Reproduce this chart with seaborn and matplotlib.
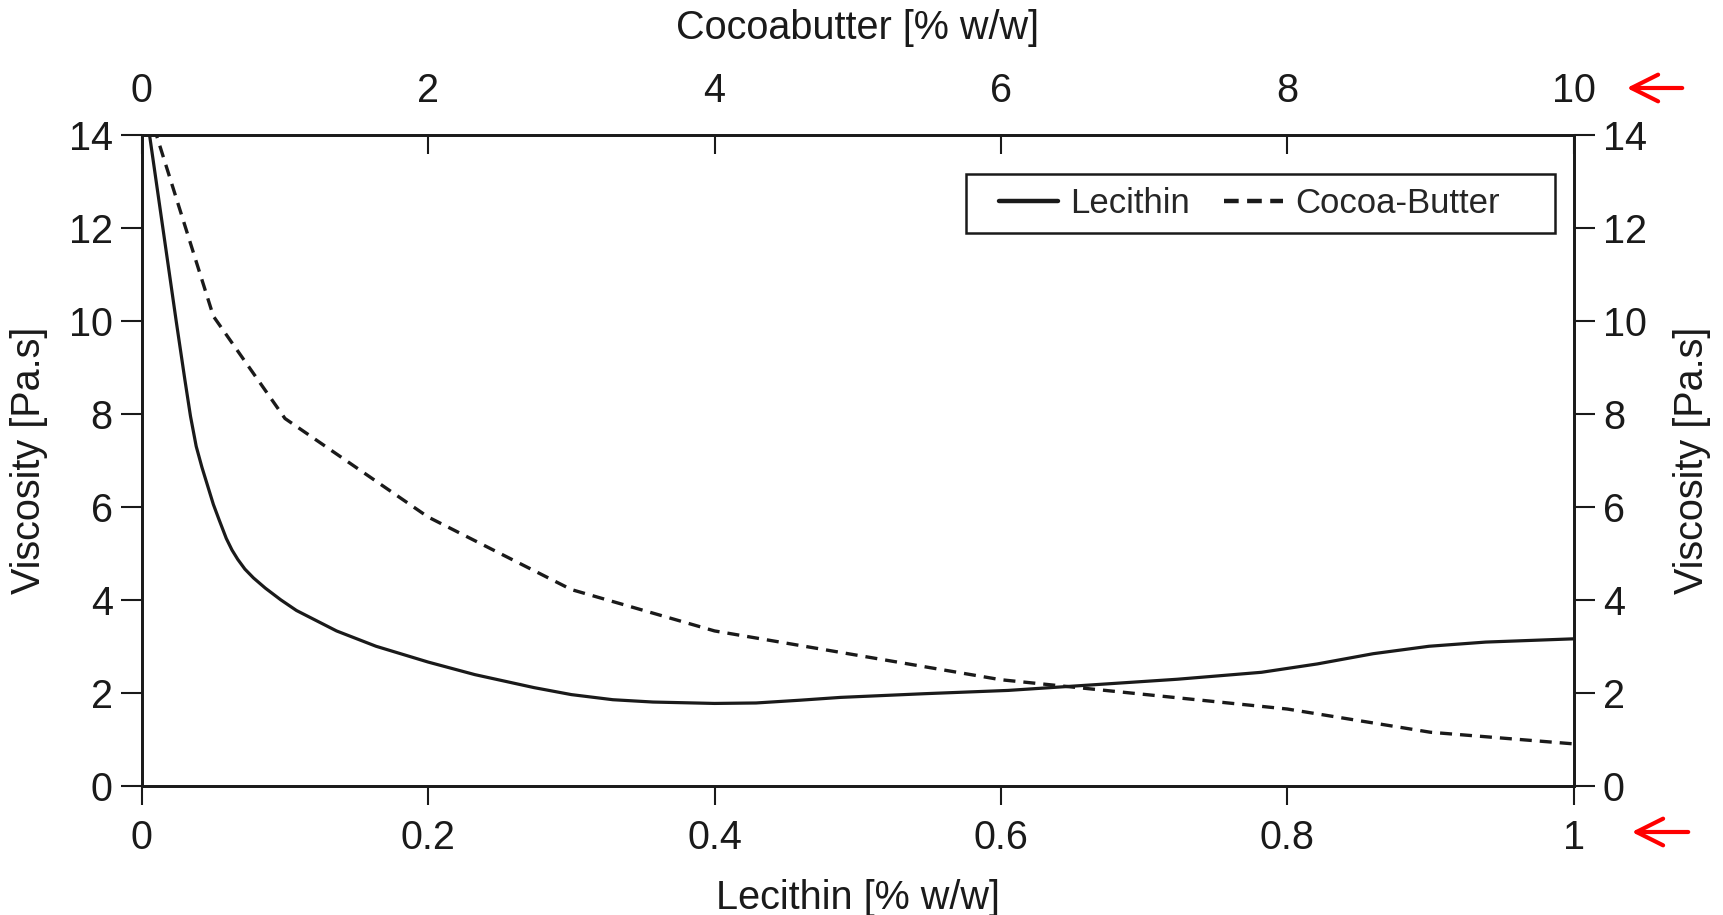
import matplotlib
matplotlib.use("Agg")
import matplotlib.pyplot as plt
from matplotlib.patches import Rectangle
import seaborn as sns
import pandas as pd

# Data
lecithin_x = [0.0, 0.0054, 0.0147, 0.024, 0.030, 0.034, 0.038, 0.042, 0.046,
              0.050, 0.054, 0.059, 0.063, 0.067, 0.072, 0.078, 0.0863, 0.097,
              0.108, 0.136, 0.1636, 0.200, 0.2326, 0.274, 0.300, 0.329, 0.357,
              0.400, 0.429, 0.460, 0.488, 0.547, 0.605, 0.664, 0.723, 0.782,
              0.821, 0.860, 0.899, 0.9386, 1.000]
lecithin_visc = [15.1, 14.0, 12.0, 10.0, 8.75, 7.95, 7.3, 6.85, 6.45,
                 6.05, 5.72, 5.32, 5.07, 4.87, 4.66, 4.47, 4.25, 4.0,
                 3.77, 3.33, 3.0, 2.66, 2.39, 2.11, 1.96, 1.85, 1.80,
                 1.77, 1.78, 1.84, 1.90, 1.98, 2.05, 2.17, 2.29, 2.44,
                 2.62, 2.84, 3.0, 3.09, 3.16]
cocoa_x = [0, 0.5, 1, 2, 3, 4, 6, 8, 9, 10]
cocoa_visc = [15.0, 10.1, 7.9, 5.78, 4.22, 3.33, 2.28, 1.65, 1.15, 0.9]

bottom_ticks = [0, 0.2, 0.4, 0.6, 0.8, 1]
bottom_labels = ["0", "0.2", "0.4", "0.6", "0.8", "1"]
top_ticks = [0, 2, 4, 6, 8, 10]
y_ticks = [0, 2, 4, 6, 8, 10, 12, 14]

sns.set_style("white")
plt.rcParams["font.family"] = ["Liberation Sans", "DejaVu Sans"]
FS = 28.5
LFS = 25
INK = "#1a1a1a"
W, H = 1723, 915

fig = plt.figure(figsize=(17.23, 9.15), dpi=100)
ax = fig.add_axes([0.0823, 0.1413, 0.9133 - 0.0823, 0.8525 - 0.1413])

df_l = pd.DataFrame({"x": lecithin_x, "y": lecithin_visc})
df_c = pd.DataFrame({"x": cocoa_x, "y": cocoa_visc})

sns.lineplot(data=df_l, x="x", y="y", ax=ax, color=INK, lw=2.3,
             label="Lecithin", legend=False)
ax.set_xlim(0, 1)
ax.set_ylim(0, 14)

ax2 = ax.twiny()
sns.lineplot(data=df_c, x="x", y="y", ax=ax2, color=INK, lw=2.4,
             linestyle=(0, (3.6, 2.4)), label="Cocoa-Butter", legend=False)
ax2.set_xlim(0, 10)
ax2.set_ylim(0, 14)

ax3 = ax.twinx()
ax3.set_ylim(0, 14)

for a in (ax, ax2, ax3):
    for s in a.spines.values():
        s.set_visible(True)
        s.set_color(INK)
        s.set_linewidth(1.8)

ax.set_xticks(bottom_ticks)
ax.set_xticklabels(bottom_labels)
ax.set_yticks(y_ticks)
ax.tick_params(axis="x", direction="out", length=14, width=1.5, labelsize=FS,
               pad=10, colors=INK, bottom=True)
ax.tick_params(axis="y", direction="out", length=15, width=1.5, labelsize=FS,
               pad=6, colors=INK, left=True)

ax2.set_xticks(top_ticks)
ax2.tick_params(axis="x", direction="in", length=14, width=1.5, labelsize=FS,
                pad=18, colors=INK, top=True)

ax3.set_yticks(y_ticks)
ax3.tick_params(axis="y", direction="out", length=15, width=1.5, labelsize=FS,
                pad=6, colors=INK, right=True)

ax.set_xlabel("Lecithin [% w/w]", fontsize=FS, labelpad=16, color=INK)
ax.set_ylabel("Viscosity [Pa.s]", fontsize=FS, labelpad=15, color=INK)
ax2.set_xlabel("Cocoabutter [% w/w]", fontsize=FS, labelpad=24, color=INK)
ax3.set_ylabel("Viscosity [Pa.s]", fontsize=FS, labelpad=19, color=INK,
               rotation=90)

h1, l1 = ax.get_legend_handles_labels()
h2, l2 = ax2.get_legend_handles_labels()
leg = ax3.legend(h1 + h2, l1 + l2, loc="center", ncol=2,
                 bbox_to_anchor=((992 + 1507) / 2 / W, 1 - 203.5 / H),
                 bbox_transform=fig.transFigure, borderaxespad=0,
                 fontsize=LFS, frameon=False, handlelength=1.7,
                 handletextpad=0.35, columnspacing=1.0, borderpad=0)
leg_lines = leg.get_lines()
leg_lines[0].set_linewidth(3.2)
leg_lines[1].set_linewidth(3.2)
leg_lines[1].set_dashes((3.3, 1.9))

# legend frame (wider on the right, as in the reference)
fig.add_artist(Rectangle((966 / W, 1 - 233 / H), 589 / W, 59.4 / H,
                         transform=fig.transFigure, fill=False, ec=INK, lw=1.8,
                         zorder=5))

# red arrows pointing at the axis ends
arrow_kw = dict(arrowstyle="->", color="red", lw=3, mutation_scale=48)
ax.annotate("", xy=(1624 / W, 1 - 88 / H), xytext=(1685 / W, 1 - 88 / H),
            xycoords="figure fraction", textcoords="figure fraction",
            arrowprops=arrow_kw)
ax.annotate("", xy=(1629 / W, 1 - 832 / H), xytext=(1691 / W, 1 - 832 / H),
            xycoords="figure fraction", textcoords="figure fraction",
            arrowprops=arrow_kw)

fig.savefig("out.png", dpi=100, facecolor="white")
